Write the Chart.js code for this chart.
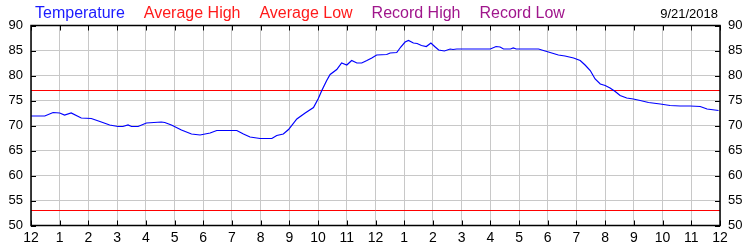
<!DOCTYPE html>
<html>
<head>
<meta charset="utf-8">
<script src="https://cdn.jsdelivr.net/npm/chart.js@4"></script>
<style>
  body { margin: 0; background: #fff; }
  #wrap { width: 750px; height: 250px; position: relative; }
</style>
</head>
<body>
<div id="wrap"><canvas id="chart"></canvas></div>
<script>
"use strict";

// hours after midnight
const hours = [0, 0.48, 0.77, 1.0, 1.17, 1.4, 1.75, 2.1, 2.45, 2.74, 3.03, 3.2, 3.38, 3.5, 3.73,
  4.02, 4.54, 4.66, 4.89, 5.24, 5.59, 5.89, 6.24, 6.47, 7.17, 7.4, 7.63, 7.98, 8.39, 8.56,
  8.79, 8.97, 9.26, 9.55, 9.84, 10.0, 10.13, 10.3, 10.42, 10.65, 10.82, 11.0, 11.17, 11.35,
  11.52, 11.7, 11.87, 12.04, 12.39, 12.51, 12.74, 12.88, 13.03, 13.15, 13.32, 13.45, 13.6,
  13.77, 13.93, 14.06, 14.2, 14.4, 14.6, 14.7, 14.83, 16.0, 16.2, 16.34, 16.46, 16.7, 16.8,
  16.9, 17.68, 17.85, 18.14, 18.37, 18.6, 18.9, 19.13, 19.3, 19.48, 19.65, 19.83, 20.0,
  20.17, 20.35, 20.52, 20.75, 20.98, 21.22, 21.51, 21.92, 22.26, 22.61, 22.96, 23.31,
  23.55, 23.95];
const temperature = [71.9, 71.9, 72.6, 72.5, 72.1, 72.5, 71.5, 71.4, 70.7, 70.1, 69.8, 69.8, 70.1, 69.8, 69.8,
  70.5, 70.7, 70.6, 70.1, 69.1, 68.3, 68.1, 68.5, 69.0, 69.0, 68.3, 67.7, 67.4, 67.4, 68.0,
  68.3, 69.2, 71.3, 72.5, 73.6, 75.3, 77.0, 79.0, 80.2, 81.2, 82.5, 82.1, 83.0, 82.5,
  82.5, 83.0, 83.5, 84.1, 84.2, 84.5, 84.6, 85.7, 86.7, 87.0, 86.5, 86.4, 86.0,
  85.8, 86.5, 85.8, 85.1, 84.9, 85.3, 85.2, 85.3, 85.3, 85.8, 85.7, 85.3, 85.3, 85.5,
  85.3, 85.3, 85.0, 84.5, 84.1, 83.9, 83.5, 83.0, 82.1, 81.0, 79.3, 78.3, 78.0,
  77.5, 76.8, 76.0, 75.5, 75.3, 75.0, 74.6, 74.3, 74.0, 73.9, 73.9, 73.8,
  73.3, 73.0];

const averageHigh = 77;
const averageLow = 53;
const dayStart = 0;
const dayEnd = 24;
const hourLabels = ['12', '1', '2', '3', '4', '5', '6', '7', '8', '9', '10', '11',
                    '12', '1', '2', '3', '4', '5', '6', '7', '8', '9', '10', '11', '12'];
const dateText = '9/21/2018';

const FONT = 'Arial, "Liberation Sans", sans-serif';

function toPoints(xs, ys) {
  return xs.map((x, i) => ({ x: x, y: ys[i] }));
}

// legend across the top + date at right
const headerPlugin = {
  id: 'header',
  afterDraw(chart) {
    const ctx = chart.ctx;
    ctx.save();
    ctx.font = '16px ' + FONT;
    ctx.textBaseline = 'alphabetic';
    ctx.textAlign = 'left';
    let x = 35;
    for (const ds of chart.data.datasets) {
      ctx.fillStyle = ds.legendColor;
      ctx.fillText(ds.label, x, 18);
      x += ctx.measureText(ds.label).width + 19;
    }
    ctx.font = '13px ' + FONT;
    ctx.fillStyle = '#000';
    ctx.textAlign = 'right';
    ctx.fillText(dateText, 718, 18);
    ctx.restore();
  }
};

// black frame with tick marks pointing inward
const framePlugin = {
  id: 'frame',
  afterDatasetsDraw(chart) {
    const ctx = chart.ctx;
    const a = chart.chartArea;
    const xs = chart.scales.x;
    const ys = chart.scales.y;
    ctx.save();
    ctx.strokeStyle = '#000';
    ctx.lineWidth = 1;
    ctx.beginPath();
    for (const t of xs.ticks) {
      const px = Math.round(xs.getPixelForValue(t.value)) + 0.5;
      ctx.moveTo(px, a.bottom); ctx.lineTo(px, a.bottom - 5);
      ctx.moveTo(px, a.top); ctx.lineTo(px, a.top + 5);
    }
    for (const t of ys.ticks) {
      const py = Math.round(ys.getPixelForValue(t.value)) + 0.5;
      ctx.moveTo(a.left, py); ctx.lineTo(a.left + 5, py);
      ctx.moveTo(a.right, py); ctx.lineTo(a.right - 5, py);
    }
    ctx.stroke();
    ctx.lineWidth = 1.5;
    ctx.strokeRect(a.left, a.top, a.right - a.left, a.bottom - a.top);
    ctx.restore();
  }
};

const ctx = document.getElementById('chart').getContext('2d');
new Chart(ctx, {
  type: 'line',
  data: {
    datasets: [
      {
        label: 'Temperature',
        legendColor: '#1a1aff',
        data: toPoints(hours, temperature),
        borderColor: '#0000ff',
        borderWidth: 1.2,
        pointRadius: 0,
        tension: 0
      },
      {
        label: 'Average High',
        legendColor: '#ff1a1a',
        data: toPoints([dayStart, dayEnd], [averageHigh, averageHigh]),
        borderColor: '#ff0000',
        borderWidth: 1,
        pointRadius: 0
      },
      {
        label: 'Average Low',
        legendColor: '#ff1a1a',
        data: toPoints([dayStart, dayEnd], [averageLow, averageLow]),
        borderColor: '#ff0000',
        borderWidth: 1,
        pointRadius: 0
      },
      {
        label: 'Record High',
        legendColor: '#a0168c',
        data: [],
        borderColor: '#a0168c',
        pointRadius: 0
      },
      {
        label: 'Record Low',
        legendColor: '#a0168c',
        data: [],
        borderColor: '#a0168c',
        pointRadius: 0
      }
    ]
  },
  options: {
    responsive: true,
    maintainAspectRatio: false,
    animation: false,
    layout: { padding: { top: 25.5, left: 0, right: 0, bottom: 0 } },
    plugins: {
      legend: { display: false },
      tooltip: { enabled: false }
    },
    scales: {
      x: {
        type: 'linear',
        min: dayStart,
        max: dayEnd,
        afterFit(scale) { scale.height = 24.5; },
        afterBuildTicks(scale) {
          scale.ticks = hourLabels.map((l, i) => ({ value: i }));
        },
        ticks: {
          autoSkip: false,
          maxRotation: 0,
          padding: 4,
          color: '#000',
          font: { family: FONT, size: 14 },
          callback: (v, i) => hourLabels[i]
        },
        grid: { color: '#c8c8c8', drawTicks: false },
        border: { display: false }
      },
      y: {
        position: 'left',
        min: 50,
        max: 90,
        afterFit(scale) { scale.width = 31; },
        ticks: {
          stepSize: 5,
          padding: 8,
          color: '#000',
          font: { family: FONT, size: 13 }
        },
        grid: { color: '#c8c8c8', drawTicks: false },
        border: { display: false }
      },
      y2: {
        position: 'right',
        min: 50,
        max: 90,
        afterFit(scale) { scale.width = 30; },
        ticks: {
          stepSize: 5,
          padding: 8,
          color: '#000',
          font: { family: FONT, size: 13 }
        },
        grid: { display: false, drawTicks: false },
        border: { display: false }
      }
    }
  },
  plugins: [headerPlugin, framePlugin]
});
</script>
</body>
</html>
